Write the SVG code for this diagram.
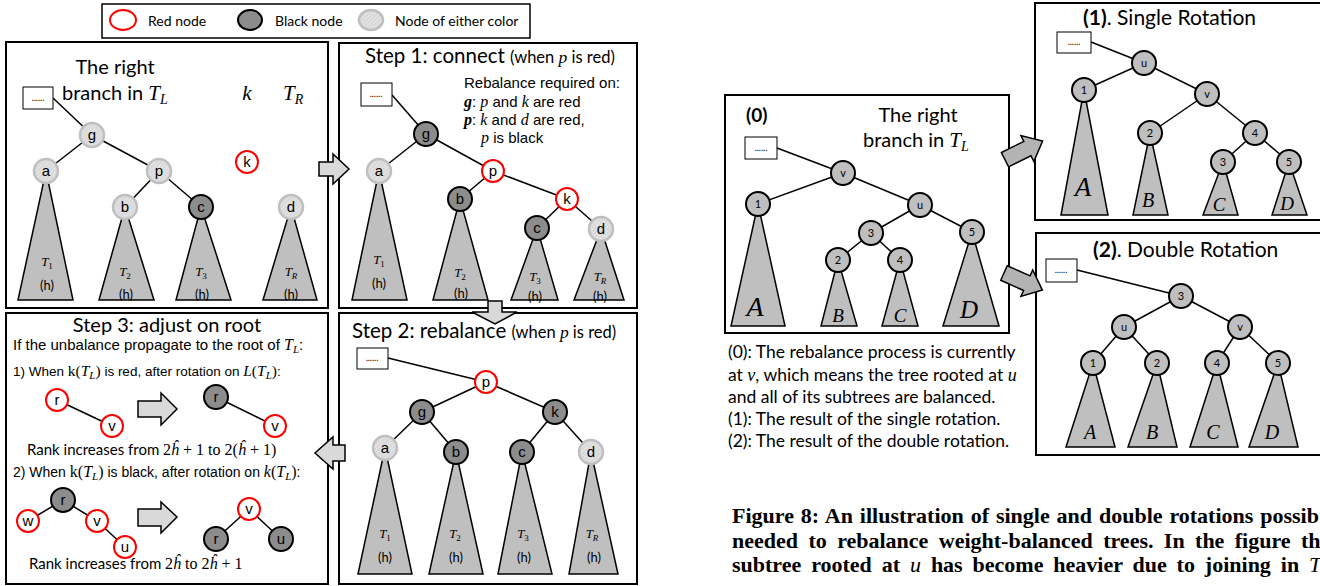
<svg xmlns="http://www.w3.org/2000/svg" width="1320" height="586" viewBox="0 0 1320 586">
<style>
  .c { font-family: Lato, "Open Sans", sans-serif; fill: #000; }
  .a { font-family: "Liberation Sans", Arial, sans-serif; fill: #000; }
  .m { font-family: "Liberation Serif", "DejaVu Serif", serif; font-style: italic; }
  .mr { font-family: "Liberation Serif", "DejaVu Serif", serif; font-style: normal; }
  .cap { font-family: "Liberation Serif", "Times New Roman", serif; font-weight: bold; font-size: 22px; fill: #000; }
  .panel { fill: #fff; stroke: #000; stroke-width: 2; }
  .box { fill: #fff; stroke: #000; stroke-width: 1; }
  .dots { font-family: Lato, sans-serif; font-size: 9px; text-anchor: middle; fill: #000; }
  .red { fill: #fff; stroke: #ff0000; stroke-width: 2; }
  .blk { fill: #8c8c8c; stroke: #000; stroke-width: 2; }
  .any { fill: url(#hatch); stroke: #bfbfbf; stroke-width: 2.5; }
  .gn { fill: #bfbfbf; stroke: #000; stroke-width: 2; }
  .tri { fill: #bfbfbf; stroke: #000; stroke-width: 1.5; }
  .edge line { stroke: #000; stroke-width: 1.5; }
  .barrow { fill: #d9d9d9; stroke: #000; stroke-width: 1.5; }
  .darrow { fill: #b3b3b3; stroke: #000; stroke-width: 1.5; }
  .nl { font-family: "Liberation Sans", Arial, sans-serif; font-size: 15px; text-anchor: middle; }
  .nr { font-family: Lato, "Open Sans", sans-serif; font-size: 11px; text-anchor: middle; }
  .tl { font-size: 13px; text-anchor: middle; }
</style>
<defs>
  <pattern id="hatch" width="3" height="3" patternUnits="userSpaceOnUse" patternTransform="rotate(45)">
    <rect width="3" height="3" fill="#e2e2e2"/>
    <line x1="0" y1="0" x2="0" y2="3" stroke="#c4c4c4" stroke-width="1"/>
  </pattern>
  <polygon id="slant-arrow" points="0,-8 25,-8 25,-14.5 42,0 25,14.5 25,8 0,8"/>
</defs>

<!-- legend -->
<g id="legend">
  <rect x="102" y="4" width="428" height="34" fill="#fff" stroke="#000" stroke-width="1.5"/>
  <ellipse cx="123" cy="20" rx="13" ry="10" class="red"/>
  <text x="148" y="26" class="c" font-size="14">Red node</text>
  <ellipse cx="250" cy="20" rx="12" ry="10" class="blk"/>
  <text x="275" y="26" class="c" font-size="14">Black node</text>
  <ellipse cx="371" cy="20" rx="12" ry="10" class="any"/>
  <text x="395" y="26" class="c" font-size="14">Node of either color</text>
</g>

<!-- panel frames -->
<g id="frames">
  <rect x="6" y="42" width="322" height="266" class="panel"/>
  <rect x="339" y="43" width="298" height="265" class="panel"/>
  <rect x="6" y="313" width="322" height="271" class="panel"/>
  <rect x="339" y="313" width="298" height="271" class="panel"/>
  <rect x="725" y="95" width="284" height="238" class="panel"/>
  <rect x="1035" y="3" width="300" height="217" class="panel"/>
  <rect x="1036" y="233" width="300" height="222" class="panel"/>
</g>

<!-- ===== panel: right branch in T_L, k, T_R ===== -->
<g id="p0-text">
  <text x="115" y="74" class="c" font-size="20" text-anchor="middle">The right</text>
  <text x="62" y="100" class="c" font-size="20">branch in <tspan class="m" font-size="21">T</tspan><tspan class="m" font-size="14" dy="4">L</tspan></text>
  <text x="247" y="100" class="m" font-size="21" text-anchor="middle">k</text>
  <text x="283" y="100" class="m" font-size="21">T<tspan font-size="14" dy="4">R</tspan></text>
</g>

<g id="connectors">
  <!-- panel 0 -->
  <g class="edge">
    <line x1="53" y1="98" x2="92" y2="135"/>
    <line x1="92" y1="135" x2="46" y2="171"/>
    <line x1="92" y1="135" x2="159" y2="171"/>
    <line x1="159" y1="171" x2="125" y2="207"/>
    <line x1="159" y1="171" x2="201" y2="207"/>
  </g>
  <!-- step 1 -->
  <g class="edge">
    <line x1="392" y1="95" x2="426" y2="134"/>
    <line x1="426" y1="134" x2="379" y2="171"/>
    <line x1="426" y1="134" x2="493" y2="171"/>
    <line x1="493" y1="171" x2="460" y2="199"/>
    <line x1="493" y1="171" x2="567" y2="199"/>
    <line x1="567" y1="199" x2="537" y2="228"/>
    <line x1="567" y1="199" x2="601" y2="229"/>
  </g>
  <!-- step 2 -->
  <g class="edge">
    <line x1="388" y1="358" x2="486" y2="382"/>
    <line x1="486" y1="382" x2="422" y2="412"/>
    <line x1="486" y1="382" x2="555" y2="412"/>
    <line x1="422" y1="412" x2="385" y2="448"/>
    <line x1="422" y1="412" x2="456" y2="452"/>
    <line x1="555" y1="412" x2="522" y2="452"/>
    <line x1="555" y1="412" x2="591" y2="452"/>
  </g>
  <!-- step 3 -->
  <g class="edge">
    <line x1="57" y1="400" x2="112" y2="426"/>
    <line x1="216" y1="397" x2="275" y2="426"/>
    <line x1="63" y1="500" x2="28" y2="521"/>
    <line x1="63" y1="500" x2="97" y2="521"/>
    <line x1="97" y1="521" x2="125" y2="547"/>
    <line x1="249" y1="509" x2="216" y2="539"/>
    <line x1="249" y1="509" x2="281" y2="539"/>
  </g>
  <!-- (0) -->
  <g class="edge">
    <line x1="777" y1="148" x2="843" y2="173"/>
    <line x1="843" y1="173" x2="758" y2="204"/>
    <line x1="843" y1="173" x2="920" y2="205"/>
    <line x1="920" y1="205" x2="871" y2="233"/>
    <line x1="920" y1="205" x2="972" y2="232"/>
    <line x1="871" y1="233" x2="838" y2="260"/>
    <line x1="871" y1="233" x2="900" y2="260"/>
  </g>
  <!-- (1) -->
  <g class="edge">
    <line x1="1091" y1="42" x2="1144" y2="63"/>
    <line x1="1144" y1="63" x2="1084" y2="90"/>
    <line x1="1144" y1="63" x2="1207" y2="94"/>
    <line x1="1207" y1="94" x2="1150" y2="133"/>
    <line x1="1207" y1="94" x2="1255" y2="133"/>
    <line x1="1255" y1="133" x2="1223" y2="162"/>
    <line x1="1255" y1="133" x2="1289" y2="162"/>
  </g>
  <!-- (2) -->
  <g class="edge">
    <line x1="1077" y1="270" x2="1181" y2="296"/>
    <line x1="1181" y1="296" x2="1124" y2="327"/>
    <line x1="1181" y1="296" x2="1240" y2="327"/>
    <line x1="1124" y1="327" x2="1093" y2="363"/>
    <line x1="1124" y1="327" x2="1157" y2="363"/>
    <line x1="1240" y1="327" x2="1217" y2="363"/>
    <line x1="1240" y1="327" x2="1278" y2="363"/>
  </g>
  <!-- block arrows between panels -->
  <polygon class="barrow" points="319,162 333,162 333,154 349,169 333,184 333,176 319,176"/>
  <polygon class="barrow" points="488,301 502,301 502,312 517,312 495,324 472,312 488,312"/>
  <polygon class="barrow" points="345,445 333,445 333,437 315,453 333,469 333,461 345,461"/>
  <polygon class="barrow" points="138,401 161,401 161,393 177,409 161,425 161,417 138,417"/>
  <polygon class="barrow" points="138,509 161,509 161,502 177,517 161,533 161,526 138,526"/>
  <use href="#slant-arrow" class="darrow" transform="translate(1005,159.7) rotate(-26.5)"/>
  <use href="#slant-arrow" class="darrow" transform="translate(1004,273) rotate(24)"/>
</g>

<!-- panel 0 nodes -->
<g id="p0-box"><rect x="23" y="87" width="30" height="22" class="box"/><text x="38" y="101" class="dots">......</text></g>
<g id="p0-T1"><polygon class="tri" points="46,171 18,300 73,300"/><text x="47" y="266" class="m tl">T<tspan font-size="9" dy="3" class="mr">1</tspan></text><text x="47" y="290" class="c tl">(h)</text></g>
<g id="p0-T2"><polygon class="tri" points="125,207 99,300 154,300"/><text x="125" y="276" class="m tl">T<tspan font-size="9" dy="3" class="mr">2</tspan></text><text x="126" y="299" class="c tl">(h)</text></g>
<g id="p0-T3"><polygon class="tri" points="201,207 176,300 231,300"/><text x="201" y="276" class="m tl">T<tspan font-size="9" dy="3" class="mr">3</tspan></text><text x="202" y="299" class="c tl">(h)</text></g>
<g id="p0-TR"><polygon class="tri" points="291,207 263,300 317,300"/><text x="291" y="276" class="m tl">T<tspan font-size="9" dy="3">R</tspan></text><text x="291" y="299" class="c tl">(h)</text></g>
<g id="p0-g"><circle cx="92" cy="135" r="12" class="any"/><text x="92" y="140" class="nl">g</text></g>
<g id="p0-a"><circle cx="46" cy="171" r="12" class="any"/><text x="46" y="176" class="nl">a</text></g>
<g id="p0-p"><circle cx="159" cy="171" r="12" class="any"/><text x="159" y="176" class="nl">p</text></g>
<g id="p0-k"><circle cx="247" cy="162" r="11" class="red"/><text x="247" y="167" class="nl">k</text></g>
<g id="p0-b"><circle cx="125" cy="207" r="12" class="any"/><text x="125" y="212" class="nl">b</text></g>
<g id="p0-c"><circle cx="201" cy="207" r="12" class="blk"/><text x="201" y="212" class="nl">c</text></g>
<g id="p0-d"><circle cx="291" cy="207" r="12" class="any"/><text x="291" y="212" class="nl">d</text></g>

<!-- ===== step 1 ===== -->
<g id="s1-text">
  <text x="365" y="63" class="c" font-size="20.5">Step 1: connect <tspan font-size="16.5">(when <tspan class="m" font-size="17.5">p</tspan> is red)</tspan></text>
  <text x="464" y="88" class="a" font-size="15">Rebalance required on:</text>
  <text x="464" y="107" class="a" font-size="15"><tspan class="m" font-weight="bold" font-size="16">g</tspan>: <tspan class="m" font-size="16">p</tspan> and <tspan class="m" font-size="16">k</tspan> are red</text>
  <text x="464" y="125" class="a" font-size="15"><tspan class="m" font-weight="bold" font-size="16">p</tspan>: <tspan class="m" font-size="16">k</tspan> and <tspan class="m" font-size="16">d</tspan> are red,</text>
  <text x="481" y="143" class="a" font-size="15"><tspan class="m" font-size="16">p</tspan> is black</text>
</g>
<g id="s1-box"><rect x="361" y="83" width="31" height="23" class="box"/><text x="376" y="97" class="dots">......</text></g>
<g id="s1-T1"><polygon class="tri" points="379,171 352,300 407,300"/><text x="379" y="264" class="m tl">T<tspan font-size="9" dy="3" class="mr">1</tspan></text><text x="379" y="288" class="c tl">(h)</text></g>
<g id="s1-T2"><polygon class="tri" points="460,199 433,300 488,300"/><text x="460" y="277" class="m tl">T<tspan font-size="9" dy="3" class="mr">2</tspan></text><text x="461" y="298" class="c tl">(h)</text></g>
<g id="s1-T3"><polygon class="tri" points="537,228 511,300 558,300"/><text x="535" y="281" class="m tl">T<tspan font-size="9" dy="3" class="mr">3</tspan></text><text x="535" y="301" class="c tl">(h)</text></g>
<g id="s1-TR"><polygon class="tri" points="601,229 574,300 624,300"/><text x="600" y="281" class="m tl">T<tspan font-size="9" dy="3">R</tspan></text><text x="600" y="301" class="c tl">(h)</text></g>
<g id="s1-g"><circle cx="426" cy="134" r="12" class="blk"/><text x="426" y="139" class="nl">g</text></g>
<g id="s1-a"><circle cx="379" cy="171" r="12" class="any"/><text x="379" y="176" class="nl">a</text></g>
<g id="s1-p"><circle cx="493" cy="171" r="11" class="red"/><text x="493" y="176" class="nl">p</text></g>
<g id="s1-b"><circle cx="460" cy="199" r="12" class="blk"/><text x="460" y="204" class="nl">b</text></g>
<g id="s1-k"><circle cx="567" cy="199" r="11" class="red"/><text x="567" y="204" class="nl">k</text></g>
<g id="s1-c"><circle cx="537" cy="228" r="12" class="blk"/><text x="537" y="233" class="nl">c</text></g>
<g id="s1-d"><circle cx="601" cy="229" r="12" class="any"/><text x="601" y="234" class="nl">d</text></g>

<!-- ===== step 2 ===== -->
<g id="s2-text">
  <text x="352" y="338" class="c" font-size="20.5">Step 2: rebalance <tspan font-size="16.5">(when <tspan class="m" font-size="17.5">p</tspan> is red)</tspan></text>
</g>
<g id="s2-box"><rect x="357" y="348" width="31" height="21" class="box"/><text x="372" y="361" class="dots">......</text></g>
<g id="s2-T1"><polygon class="tri" points="385,448 358,574 412,574"/><text x="385" y="538" class="m tl">T<tspan font-size="9" dy="3" class="mr">1</tspan></text><text x="385" y="562" class="c tl">(h)</text></g>
<g id="s2-T2"><polygon class="tri" points="456,452 429,574 483,574"/><text x="455" y="538" class="m tl">T<tspan font-size="9" dy="3" class="mr">2</tspan></text><text x="456" y="562" class="c tl">(h)</text></g>
<g id="s2-T3"><polygon class="tri" points="522,452 498,574 552,574"/><text x="523" y="538" class="m tl">T<tspan font-size="9" dy="3" class="mr">3</tspan></text><text x="524" y="562" class="c tl">(h)</text></g>
<g id="s2-TR"><polygon class="tri" points="591,452 569,574 618,574"/><text x="592" y="538" class="m tl">T<tspan font-size="9" dy="3">R</tspan></text><text x="594" y="562" class="c tl">(h)</text></g>
<g id="s2-p"><circle cx="486" cy="382" r="11" class="red"/><text x="486" y="387" class="nl">p</text></g>
<g id="s2-g"><circle cx="422" cy="412" r="12" class="blk"/><text x="422" y="417" class="nl">g</text></g>
<g id="s2-k"><circle cx="555" cy="412" r="12" class="blk"/><text x="555" y="417" class="nl">k</text></g>
<g id="s2-a"><circle cx="385" cy="448" r="12" class="any"/><text x="385" y="453" class="nl">a</text></g>
<g id="s2-b"><circle cx="456" cy="452" r="12" class="blk"/><text x="456" y="457" class="nl">b</text></g>
<g id="s2-c"><circle cx="522" cy="452" r="12" class="blk"/><text x="522" y="457" class="nl">c</text></g>
<g id="s2-d"><circle cx="591" cy="452" r="12" class="any"/><text x="591" y="457" class="nl">d</text></g>

<!-- ===== step 3 ===== -->
<g id="s3-text">
  <text x="167" y="332" class="c" font-size="20" text-anchor="middle">Step 3: adjust on root</text>
  <text x="13" y="350" class="a" font-size="15">If the unbalance propagate to the root of <tspan class="m" font-size="16">T</tspan><tspan class="m" font-size="11" dy="3">L</tspan><tspan dy="-3">:</tspan></text>
  <text x="13" y="376" class="a" font-size="13.5">1) When <tspan class="mr" font-size="15.5">k(</tspan><tspan class="m" font-size="15.5">T</tspan><tspan class="m" font-size="11" dy="3">L</tspan><tspan class="mr" font-size="15.5" dy="-3">)</tspan> is red, after rotation on <tspan class="m" font-size="15.5">L</tspan><tspan class="mr" font-size="15.5">(</tspan><tspan class="m" font-size="15.5">T</tspan><tspan class="m" font-size="11" dy="3">L</tspan><tspan class="mr" font-size="15.5" dy="-3">)</tspan>:</text>
  <text x="27" y="455" class="c" font-size="15">Rank increases from <tspan class="mr" font-size="16">2<tspan class="m">ĥ</tspan> + 1 to 2(<tspan class="m">ĥ</tspan> + 1)</tspan></text>
  <text x="13" y="477" class="a" font-size="14">2) When <tspan class="mr" font-size="16">k(</tspan><tspan class="m" font-size="16">T</tspan><tspan class="m" font-size="11" dy="3">L</tspan><tspan class="mr" font-size="16" dy="-3">)</tspan> is black, after rotation on <tspan class="m" font-size="16">k</tspan><tspan class="mr" font-size="16">(</tspan><tspan class="m" font-size="16">T</tspan><tspan class="m" font-size="11" dy="3">L</tspan><tspan class="mr" font-size="16" dy="-3">)</tspan>:</text>
  <text x="29" y="569" class="c" font-size="15">Rank increases from <tspan class="mr" font-size="16">2<tspan class="m">ĥ</tspan> to 2<tspan class="m">ĥ</tspan> + 1</tspan></text>
</g>
<g id="s3-r1"><circle cx="57" cy="400" r="11" class="red"/><text x="57" y="405" class="nl">r</text></g>
<g id="s3-v1"><circle cx="112" cy="426" r="11" class="red"/><text x="112" y="431" class="nl">v</text></g>
<g id="s3-r2"><circle cx="216" cy="397" r="12" class="blk"/><text x="216" y="402" class="nl">r</text></g>
<g id="s3-v2"><circle cx="275" cy="426" r="11" class="red"/><text x="275" y="431" class="nl">v</text></g>
<g id="s3-r3"><circle cx="63" cy="500" r="12" class="blk"/><text x="63" y="505" class="nl">r</text></g>
<g id="s3-w3"><circle cx="28" cy="521" r="11" class="red"/><text x="28" y="526" class="nl">w</text></g>
<g id="s3-v3"><circle cx="97" cy="521" r="11" class="red"/><text x="97" y="526" class="nl">v</text></g>
<g id="s3-u3"><circle cx="125" cy="547" r="11" class="red"/><text x="125" y="552" class="nl">u</text></g>
<g id="s3-v4"><circle cx="249" cy="509" r="11" class="red"/><text x="249" y="514" class="nl">v</text></g>
<g id="s3-r4"><circle cx="216" cy="539" r="12" class="blk"/><text x="216" y="544" class="nl">r</text></g>
<g id="s3-u4"><circle cx="281" cy="539" r="12" class="blk"/><text x="281" y="544" class="nl">u</text></g>

<!-- ===== (0) ===== -->
<g id="r0-text">
  <text x="746" y="122" class="c" font-size="19" font-weight="bold">(0)</text>
  <text x="918" y="122" class="c" font-size="20" text-anchor="middle">The right</text>
  <text x="863" y="147" class="c" font-size="20">branch in <tspan class="m" font-size="21">T</tspan><tspan class="m" font-size="14" dy="4">L</tspan></text>
</g>
<g id="r0-box"><rect x="745" y="137" width="32" height="22" class="box"/><text x="761" y="151" class="dots">......</text></g>
<g id="r0-A"><polygon class="tri" points="758,204 731,326 785,326"/><text x="755" y="316" class="m" font-size="28" text-anchor="middle">A</text></g>
<g id="r0-B"><polygon class="tri" points="838,260 821,326 857,326"/><text x="838" y="322" class="m" font-size="19" text-anchor="middle">B</text></g>
<g id="r0-C"><polygon class="tri" points="900,260 882,326 918,326"/><text x="900" y="322" class="m" font-size="19" text-anchor="middle">C</text></g>
<g id="r0-D"><polygon class="tri" points="972,232 943,326 999,326"/><text x="969" y="318" class="m" font-size="25" text-anchor="middle">D</text></g>
<g id="r0-v"><circle cx="843" cy="173" r="12" class="gn"/><text x="843" y="177" class="nr">v</text></g>
<g id="r0-1"><circle cx="758" cy="204" r="12" class="gn"/><text x="758" y="208" class="nr">1</text></g>
<g id="r0-u"><circle cx="920" cy="205" r="12" class="gn"/><text x="920" y="209" class="nr">u</text></g>
<g id="r0-3"><circle cx="871" cy="233" r="12" class="gn"/><text x="871" y="237" class="nr">3</text></g>
<g id="r0-5"><circle cx="972" cy="232" r="12" class="gn"/><text x="972" y="236" class="nr">5</text></g>
<g id="r0-2"><circle cx="838" cy="260" r="12" class="gn"/><text x="838" y="264" class="nr">2</text></g>
<g id="r0-4"><circle cx="900" cy="260" r="12" class="gn"/><text x="900" y="264" class="nr">4</text></g>

<g id="r0-notes" class="c" font-size="17.5">
  <text x="728" y="358">(0): The rebalance process is currently</text>
  <text x="728" y="381">at <tspan class="m" font-size="18">v</tspan>, which means the tree rooted at <tspan class="m" font-size="18">u</tspan></text>
  <text x="728" y="403">and all of its subtrees are balanced.</text>
  <text x="728" y="425">(1): The result of the single rotation.</text>
  <text x="728" y="447">(2): The result of the double rotation.</text>
</g>

<!-- ===== (1) ===== -->
<g id="r1-text">
  <text x="1083" y="25" class="c" font-size="21"><tspan font-weight="bold">(1)</tspan>. Single Rotation</text>
</g>
<g id="r1-box"><rect x="1057" y="32" width="34" height="21" class="box"/><text x="1074" y="45" class="dots">......</text></g>
<g id="r1-A"><polygon class="tri" points="1084,90 1061,215 1108,215"/><text x="1083" y="196" class="m" font-size="27" text-anchor="middle">A</text></g>
<g id="r1-B"><polygon class="tri" points="1150,133 1133,215 1168,215"/><text x="1148" y="207" class="m" font-size="20" text-anchor="middle">B</text></g>
<g id="r1-C"><polygon class="tri" points="1223,162 1203,215 1238,215"/><text x="1219" y="211" class="m" font-size="19" text-anchor="middle">C</text></g>
<g id="r1-D"><polygon class="tri" points="1289,162 1272,215 1307,215"/><text x="1287" y="210" class="m" font-size="19" text-anchor="middle">D</text></g>
<g id="r1-u"><circle cx="1144" cy="63" r="12" class="gn"/><text x="1144" y="67" class="nr">u</text></g>
<g id="r1-1"><circle cx="1084" cy="90" r="12" class="gn"/><text x="1084" y="94" class="nr">1</text></g>
<g id="r1-v"><circle cx="1207" cy="94" r="12" class="gn"/><text x="1207" y="98" class="nr">v</text></g>
<g id="r1-2"><circle cx="1150" cy="133" r="12" class="gn"/><text x="1150" y="137" class="nr">2</text></g>
<g id="r1-4"><circle cx="1255" cy="133" r="12" class="gn"/><text x="1255" y="137" class="nr">4</text></g>
<g id="r1-3"><circle cx="1223" cy="162" r="12" class="gn"/><text x="1223" y="166" class="nr">3</text></g>
<g id="r1-5"><circle cx="1289" cy="162" r="12" class="gn"/><text x="1289" y="166" class="nr">5</text></g>

<!-- ===== (2) ===== -->
<g id="r2-text">
  <text x="1093" y="257" class="c" font-size="21"><tspan font-weight="bold">(2)</tspan>. Double Rotation</text>
</g>
<g id="r2-box"><rect x="1046" y="259" width="31" height="23" class="box"/><text x="1061" y="273" class="dots">......</text></g>
<g id="r2-A"><polygon class="tri" points="1093,363 1066,447 1115,447"/><text x="1090" y="439" class="m" font-size="20" text-anchor="middle">A</text></g>
<g id="r2-B"><polygon class="tri" points="1157,363 1128,447 1177,447"/><text x="1152" y="439" class="m" font-size="20" text-anchor="middle">B</text></g>
<g id="r2-C"><polygon class="tri" points="1217,363 1190,447 1238,447"/><text x="1213" y="439" class="m" font-size="20" text-anchor="middle">C</text></g>
<g id="r2-D"><polygon class="tri" points="1278,363 1249,447 1298,447"/><text x="1272" y="439" class="m" font-size="20" text-anchor="middle">D</text></g>
<g id="r2-3"><circle cx="1181" cy="296" r="12" class="gn"/><text x="1181" y="300" class="nr">3</text></g>
<g id="r2-u"><circle cx="1124" cy="327" r="12" class="gn"/><text x="1124" y="331" class="nr">u</text></g>
<g id="r2-v"><circle cx="1240" cy="327" r="12" class="gn"/><text x="1240" y="331" class="nr">v</text></g>
<g id="r2-1"><circle cx="1093" cy="363" r="12" class="gn"/><text x="1093" y="367" class="nr">1</text></g>
<g id="r2-2"><circle cx="1157" cy="363" r="12" class="gn"/><text x="1157" y="367" class="nr">2</text></g>
<g id="r2-4"><circle cx="1217" cy="363" r="12" class="gn"/><text x="1217" y="367" class="nr">4</text></g>
<g id="r2-5"><circle cx="1278" cy="363" r="12" class="gn"/><text x="1278" y="367" class="nr">5</text></g>

<!-- caption (runs on past the right edge of the page) -->
<g id="caption" class="cap">
  <text x="732" y="523" word-spacing="1.4">Figure 8: An illustration of single and double rotations possib</text>
  <text x="732" y="548" word-spacing="4.9">needed to rebalance weight-balanced trees. In the figure th</text>
  <text x="732" y="572" word-spacing="4.4">subtree rooted at <tspan font-style="italic" font-weight="normal">u</tspan> has become heavier due to joining in <tspan font-style="italic" font-weight="normal">T</tspan></text>
</g>
</svg>
